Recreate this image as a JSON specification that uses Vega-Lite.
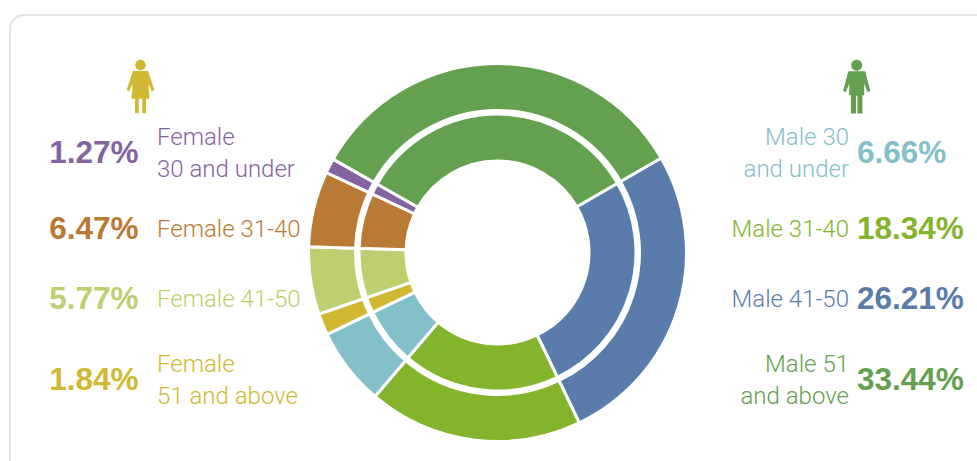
{
"$schema":"https://vega.github.io/schema/vega-lite/v6.json",
"width":1000,"height":462,
"autosize":{"type":"none"},
"padding":{"left":10,"top":15,"right":0,"bottom":0},
"background":"white",
"view":{"stroke":"#dde3e8","strokeWidth":2,"cornerRadius":14,"fill":null},
"config":{"legend":{"disable":true}},
"datasets":{
"groups":[
{"group":"Male 41-50","sex":"Male","row":3,"seq":1,"value":26.21,"pct":"26.21%","label":"Male 41-50"},
{"group":"Male 31-40","sex":"Male","row":2,"seq":2,"value":18.34,"pct":"18.34%","label":"Male 31-40"},
{"group":"Male 30 and under","sex":"Male","row":1,"seq":3,"value":6.66,"pct":"6.66%","label":"Male 30\nand under"},
{"group":"Female 51 and above","sex":"Female","row":4,"seq":4,"value":1.84,"pct":"1.84%","label":"Female\n51 and above"},
{"group":"Female 41-50","sex":"Female","row":3,"seq":5,"value":5.77,"pct":"5.77%","label":"Female 41-50"},
{"group":"Female 31-40","sex":"Female","row":2,"seq":6,"value":6.47,"pct":"6.47%","label":"Female 31-40"},
{"group":"Female 30 and under","sex":"Female","row":1,"seq":7,"value":1.27,"pct":"1.27%","label":"Female\n30 and under"},
{"group":"Male 51 and above","sex":"Male","row":4,"seq":8,"value":33.44,"pct":"33.44%","label":"Male 51\nand above"}
]
},
"data":{"name":"groups"},
"layer":[
{"mark":{"type":"arc","radius":189,"radius2":142,"stroke":"white","strokeWidth":3},
 "encoding":{"x":{"value":487.5},"y":{"value":237.5},
 "theta":{"field":"value","type":"quantitative","stack":true,"scale":{"domain":[0,100],"range":[1.0472,7.3304]}},
 "order":{"field":"seq","type":"quantitative"},
 "color":{"field":"group","type":"nominal","scale":{"domain":["Female 30 and under","Female 31-40","Female 41-50","Female 51 and above","Male 30 and under","Male 31-40","Male 41-50","Male 51 and above"],"range":["#8464a0","#b97a35","#bdcf6e","#d0b832","#84c0c9","#84b32c","#5a7caa","#63a04f"]}}}},
{"mark":{"type":"arc","radius":138.5,"radius2":91.5,"stroke":"white","strokeWidth":3},
 "encoding":{"x":{"value":487.5},"y":{"value":237.5},
 "theta":{"field":"value","type":"quantitative","stack":true,"scale":{"domain":[0,100],"range":[1.0472,7.3304]}},
 "order":{"field":"seq","type":"quantitative"},
 "color":{"field":"group","type":"nominal"}}},
{"transform":[{"filter":"datum.sex==='Female'"}],
 "mark":{"type":"text","align":"right","baseline":"middle","font":"Liberation Sans","fontWeight":"bold","fontSize":31.5},
 "encoding":{"x":{"datum":1,"type":"quantitative","axis":null,"scale":{"domain":[1,2,3,4,5,6],"range":[128.5,130.5,147,839,846.7,847]}},
 "y":{"field":"row","type":"quantitative","axis":null,"scale":{"domain":[0,1,2,3,4],"range":[71.7,139,214.5,285,366]}},
 "text":{"field":"pct"},"color":{"field":"group","type":"nominal"}}},
{"transform":[{"filter":"datum.sex==='Female' && (datum.row===2 || datum.row===3)"}],
 "mark":{"type":"text","align":"left","baseline":"middle","font":"Roboto","fontWeight":300,"fontSize":24},
 "encoding":{"x":{"datum":3,"type":"quantitative"},
 "y":{"field":"row","type":"quantitative"},
 "text":{"field":"label"},"color":{"field":"group","type":"nominal"}}},
{"transform":[{"filter":"datum.sex==='Female' && (datum.row===1 || datum.row===4)"}],
 "mark":{"type":"text","align":"left","baseline":"middle","dy":-16,"font":"Roboto","fontWeight":300,"fontSize":24,"lineBreak":"\n","lineHeight":32},
 "encoding":{"x":{"datum":3,"type":"quantitative"},
 "y":{"field":"row","type":"quantitative"},
 "text":{"field":"label"},"color":{"field":"group","type":"nominal"}}},
{"transform":[{"filter":"datum.sex==='Male' && (datum.row===2 || datum.row===3)"}],
 "mark":{"type":"text","align":"right","baseline":"middle","font":"Roboto","fontWeight":300,"fontSize":24},
 "encoding":{"x":{"datum":4,"type":"quantitative"},
 "y":{"field":"row","type":"quantitative"},
 "text":{"field":"label"},"color":{"field":"group","type":"nominal"}}},
{"transform":[{"filter":"datum.sex==='Male' && (datum.row===1 || datum.row===4)"}],
 "mark":{"type":"text","align":"right","baseline":"middle","dy":-16,"font":"Roboto","fontWeight":300,"fontSize":24,"lineBreak":"\n","lineHeight":32},
 "encoding":{"x":{"datum":4,"type":"quantitative"},
 "y":{"field":"row","type":"quantitative"},
 "text":{"field":"label"},"color":{"field":"group","type":"nominal"}}},
{"transform":[{"filter":"datum.sex==='Male'"}],
 "mark":{"type":"text","align":"left","baseline":"middle","font":"Liberation Sans","fontWeight":"bold","fontSize":31.5},
 "encoding":{"x":{"datum":6,"type":"quantitative"},
 "y":{"field":"row","type":"quantitative"},
 "text":{"field":"pct"},"color":{"field":"group","type":"nominal"}}},
{"data":{"values":[{"sex":"Female"}]},
 "mark":{"type":"point","filled":true,"opacity":1,"size":4,"color":"#d0b832","shape":"M0,-26.9 A5.2,5.2 0 1,0 0.01,-26.9 Z M-7.6,-15.7 L7.6,-15.7 L13.8,3 L11.5,5 L7.8,-3 L9,12 L5.5,12 L5.5,26.5 L1.8,26.5 L1.8,12 L-1.8,12 L-1.8,26.5 L-5.5,26.5 L-5.5,12 L-9,12 L-7.8,-3 L-11.5,5 L-13.8,3 Z"},
 "encoding":{"x":{"datum":2,"type":"quantitative"},"y":{"datum":0,"type":"quantitative"}}},
{"data":{"values":[{"sex":"Male"}]},
 "mark":{"type":"point","filled":true,"opacity":1,"size":4,"color":"#63a04f","shape":"M0,-27 A5.5,5.5 0 1,0 0.01,-27 Z M-8.4,-15.5 L8.4,-15.5 L13.6,4 L11,5.5 L7.5,-3 L7.5,8.5 L5.7,8.5 L5.7,26.8 L0.7,26.8 L0.7,9 L-0.7,9 L-0.7,26.8 L-5.7,26.8 L-5.7,8.5 L-7.5,8.5 L-7.5,-3 L-11,5.5 L-13.6,4 Z"},
 "encoding":{"x":{"datum":5,"type":"quantitative"},"y":{"datum":0,"type":"quantitative"}}}
]
}
